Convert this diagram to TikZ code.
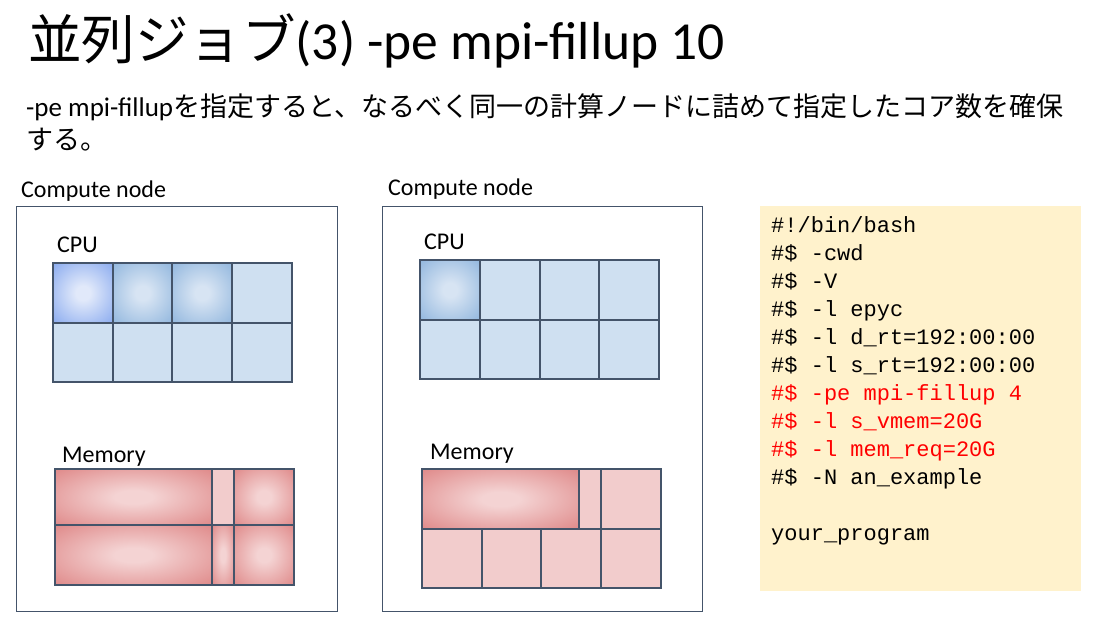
\documentclass[tikz,border=0pt]{standalone}
\usepackage{fontspec}
\setmainfont{Carlito}
\setmonofont{Liberation Mono}
\newfontfamily\jp{Noto Sans CJK JP}
\definecolor{cellline}{HTML}{44546A}
\definecolor{boxline}{HTML}{44546A}
\definecolor{cpufill}{HTML}{CFE0F1}
\definecolor{memfill}{HTML}{F2CCCC}
\definecolor{codebg}{HTML}{FFF2CC}
\definecolor{codered}{HTML}{FF0000}
\definecolor{blAin}{HTML}{E1E9FA}
\definecolor{blAout}{HTML}{7199EC}
\definecolor{blAcorner}{HTML}{5F88E6}
\definecolor{blBin}{HTML}{D7E4F3}
\definecolor{blBout}{HTML}{7EAAD8}
\definecolor{blBcorner}{HTML}{6C9BD0}
\definecolor{rdin}{HTML}{F4D3D3}
\definecolor{rdout}{HTML}{D97474}
\definecolor{rdcorner}{HTML}{D06060}
\pgfdeclareradialshading{shA}{\pgfpoint{0bp}{0bp}}{color(0bp)=(blAin); color(6bp)=(blAin); color(44bp)=(blAout); color(71bp)=(blAcorner)}
\pgfdeclareradialshading{shB}{\pgfpoint{0bp}{0bp}}{color(0bp)=(blBin); color(6bp)=(blBin); color(44bp)=(blBout); color(71bp)=(blBcorner)}
\pgfdeclareradialshading{shR}{\pgfpoint{0bp}{0bp}}{color(0bp)=(rdin); color(6bp)=(rdin); color(44bp)=(rdout); color(71bp)=(rdcorner)}
\tikzset{
  cell/.style={draw=cellline, line width=1.2pt},
  cpuflat/.style={cell, fill=cpufill},
  memflat/.style={cell, fill=memfill},
  cpuA/.style={cell, shade, shading=shA},
  cpuB/.style={cell, shade, shading=shB},
  memR/.style={cell, shade, shading=shR},
  nodebox/.style={draw=boxline, line width=1pt},
  lbl/.style={anchor=base west, inner sep=0pt, font=\fontsize{24}{28}\selectfont},
  codeline/.style={anchor=base west, inner sep=0pt, font=\ttfamily\fontsize{22}{28}\selectfont},
  coderedline/.style={codeline, text=codered}
}
\begin{document}
\begin{tikzpicture}[x=1pt,y=-1pt]
\useasboundingbox (0,0) rectangle (1110,623);
% title
\node[anchor=base west, inner sep=0pt, font=\fontsize{53.5}{60}\selectfont] (title) at (28,60) {{\jp 並列ジョブ}(3) -pe mpi-fillup 10};
\node[anchor=base west, inner sep=0pt, font=\fontsize{27}{32}\selectfont] (sub1) at (26,117) {-pe mpi-fillup{\jp を指定すると、なるべく同一の計算ノードに詰めて指定したコア数を確保}};
\node[anchor=base west, inner sep=0pt, font=\fontsize{27}{32}\selectfont] (sub2) at (26,149) {{\jp する。}};

% compute node boxes
\node[lbl] (cnL) at (21,197) {Compute node};
\node[lbl] (cnR) at (388,195) {Compute node};
\draw[nodebox] (16,206) rectangle (337,611);
\draw[nodebox] (382,206) rectangle (702,611);

% left CPU
\node[lbl] (cpuL) at (57,252) {CPU};
\path[cpuA] (53,263) rectangle (113,323);
\path[cpuB] (113,263) rectangle (172,323);
\path[cpuB] (172,263) rectangle (232,323);
\path[cpuflat] (232,263) rectangle (292,323);
\path[cpuflat] (53,323) rectangle (113,382);
\path[cpuflat] (113,323) rectangle (172,382);
\path[cpuflat] (172,323) rectangle (232,382);
\path[cpuflat] (232,323) rectangle (292,382);

% right CPU
\node[lbl] (cpuR) at (424,249) {CPU};
\path[cpuB] (420,260) rectangle (480,320);
\path[cpuflat] (480,260) rectangle (540,320);
\path[cpuflat] (540,260) rectangle (599,320);
\path[cpuflat] (599,260) rectangle (659,320);
\path[cpuflat] (420,320) rectangle (480,379);
\path[cpuflat] (480,320) rectangle (540,379);
\path[cpuflat] (540,320) rectangle (599,379);
\path[cpuflat] (599,320) rectangle (659,379);

% left memory
\node[lbl] (memL) at (62,462) {Memory};
\path[memR] (55,469) rectangle (212,525);
\path[memflat] (212,469) rectangle (234,525);
\path[memR] (234,469) rectangle (294,525);
\path[memR] (55,525) rectangle (212,585);
\path[memR] (212,525) rectangle (234,585);
\path[memR] (234,525) rectangle (294,585);

% right memory
\node[lbl] (memRl) at (430,459) {Memory};
\path[memR] (422,469) rectangle (579,529);
\path[memflat] (579,469) rectangle (601,529);
\path[memflat] (601,469) rectangle (661,529);
\path[memflat] (422,529) rectangle (482,588);
\path[memflat] (482,529) rectangle (541,588);
\path[memflat] (541,529) rectangle (601,588);
\path[memflat] (601,529) rectangle (661,588);

% code box
\fill[codebg] (760,206) rectangle (1081,591);
\node[codeline] (c0) at (771,232) {\#!/bin/bash};
\node[codeline] (c1) at (771,260) {\#\$ -cwd};
\node[codeline] (c2) at (771,288) {\#\$ -V};
\node[codeline] (c3) at (771,316) {\#\$ -l epyc};
\node[codeline] (c4) at (771,344) {\#\$ -l d\_rt=192:00:00};
\node[codeline] (c5) at (771,372) {\#\$ -l s\_rt=192:00:00};
\node[coderedline] (c6) at (771,400) {\#\$ -pe mpi-fillup 4};
\node[coderedline] (c7) at (771,428) {\#\$ -l s\_vmem=20G};
\node[coderedline] (c8) at (771,456) {\#\$ -l mem\_req=20G};
\node[codeline] (c9) at (771,484) {\#\$ -N an\_example};
\node[codeline] (c10) at (771,540) {your\_program};
\end{tikzpicture}
\end{document}
